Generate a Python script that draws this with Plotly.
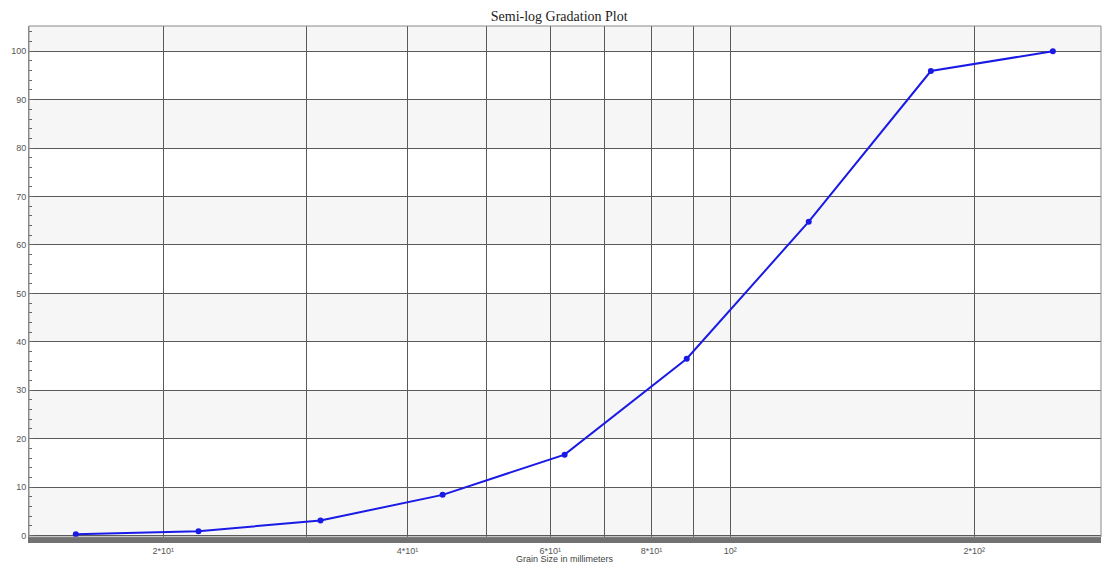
import plotly.graph_objects as go

# Data
grain_size_mm = [15.6, 22.1, 31.25, 44.2, 62.5, 88.4, 125, 176.8, 250]
percent_passing = [0.25, 0.9, 3.1, 8.4, 16.7, 36.5, 64.8, 95.9, 100]

x_grid_vals = [20, 30, 40, 50, 60, 70, 80, 90, 100, 200]
x_tick_text = ["2*10¹", "", "4*10¹", "", "6*10¹", "", "8*10¹", "", "10²", "2*10²"]
y_tick_vals = [0, 10, 20, 30, 40, 50, 60, 70, 80, 90, 100]
band_starts = [0, 20, 40, 60, 80, 100]

fig = go.Figure()
fig.add_trace(go.Scatter(
    x=grain_size_mm, y=percent_passing, mode="lines+markers",
    line=dict(color="#1a1ae6", width=2),
    marker=dict(color="#1a1ae6", size=6),
    showlegend=False,
))

shapes = []
for b in band_starts:
    shapes.append(dict(type="rect", xref="paper", yref="y", x0=0, x1=1,
                       y0=b, y1=min(b + 10, 105.2), fillcolor="#f6f6f6",
                       line=dict(width=0), layer="below"))
shapes.append(dict(type="rect", xref="paper", yref="paper", x0=0, x1=1, y0=0, y1=1,
                   line=dict(color="#8a8a8a", width=1), fillcolor="rgba(0,0,0,0)"))

fig.update_layout(
    width=1103, height=565,
    margin=dict(l=29, r=2, t=26, b=28, autoexpand=False),
    paper_bgcolor="white", plot_bgcolor="white",
    title=dict(text="Semi-log Gradation Plot", x=0.507, xanchor="center", y=0.972, yanchor="middle",
               automargin=False,
               font=dict(family="Liberation Serif", size=14, color="#222")),
    shapes=shapes,
    annotations=[dict(text="Grain Size in millimeters", xref="paper", yref="paper",
                      x=0.5, y=0, xanchor="center", yanchor="top", yshift=-15,
                      showarrow=False,
                      font=dict(family="Liberation Sans", size=9, color="#444"))],
    xaxis=dict(
        type="log", range=[1.1354, 2.4573], automargin=False,
        tickmode="array", tickvals=x_grid_vals, ticktext=x_tick_text,
        showgrid=True, gridcolor="#5a5a5a", gridwidth=1,
        showline=True, linecolor="#727272", linewidth=6,
        ticks="", tickfont=dict(family="Liberation Sans", size=9, color="#555"),
        zeroline=False,
    ),
    yaxis=dict(
        range=[-0.3, 105.2], automargin=False,
        tickmode="array", tickvals=y_tick_vals,
        showgrid=True, gridcolor="#5a5a5a", gridwidth=1,
        showline=True, linecolor="#8a8a8a", linewidth=1,
        ticks="inside", ticklen=4, tickcolor="#666",
        minor=dict(dtick=2, ticks="inside", ticklen=3, tickcolor="#666", showgrid=False),
        tickfont=dict(family="Liberation Sans", size=9, color="#555"),
        zeroline=False,
    ),
)

post = ("document.body.style.margin='0';document.body.style.padding='0';"
        "document.body.style.overflow='hidden';"
        "Plotly.relayout('{plot_id}', {width:1103, height:565});")
fig.write_html("out.html", config={"responsive": False, "displayModeBar": False},
               post_script=post)
